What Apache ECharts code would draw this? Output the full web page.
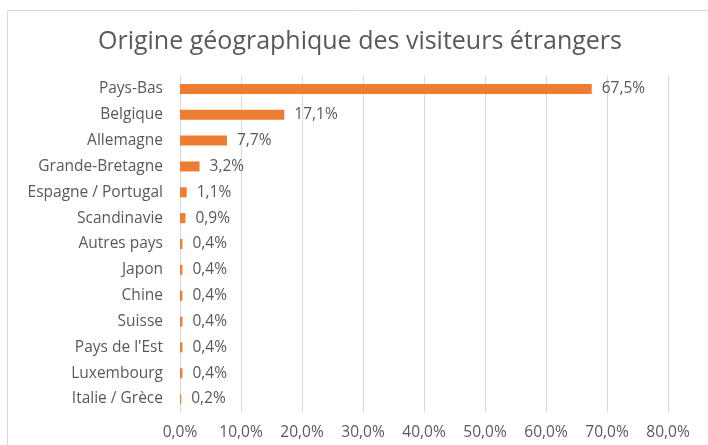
<!DOCTYPE html>
<html>
<head>
<meta charset="utf-8">
<script src="https://cdn.jsdelivr.net/npm/echarts@6/dist/echarts.min.js"></script>
<style>
  html, body { margin: 0; padding: 0; background: #fff; }
  #chart { width: 708px; height: 445px; }
</style>
</head>
<body>
<div id="chart"></div>
<script>
// données (du haut vers le bas)
const pays = ['Pays-Bas', 'Belgique', 'Allemagne', 'Grande-Bretagne', 'Espagne / Portugal',
  'Scandinavie', 'Autres pays', 'Japon', 'Chine', 'Suisse', "Pays de l'Est", 'Luxembourg', 'Italie / Grèce'];
const parts = [67.5, 17.1, 7.7, 3.2, 1.1, 0.9, 0.4, 0.4, 0.4, 0.4, 0.4, 0.4, 0.2];

const fmt = (v) => v.toFixed(1).replace('.', ',') + '%';
const police = '"Open Sans", sans-serif';

const mc = echarts.init(document.getElementById('chart'));
mc.setOption({
  animation: false,
  title: {
    text: 'Origine géographique des visiteurs étrangers',
    left: 93,
    top: 24,
    textStyle: { fontFamily: police, fontSize: 25, fontWeight: 'normal', color: '#595959' },
  },
  graphic: [{
    type: 'rect',
    shape: { x: 7.5, y: 10.5, width: 720, height: 460 },
    style: { fill: 'none', stroke: '#d9d9d9', lineWidth: 1 },
    silent: true,
  }],
  grid: { left: 180, right: 40, top: 76, bottom: 33 },
  xAxis: {
    type: 'value',
    min: 0,
    max: 80,
    interval: 10,
    axisLine: { show: false },
    axisTick: { show: false },
    splitLine: { lineStyle: { color: '#d9d9d9' } },
    axisLabel: {
      formatter: fmt,
      margin: 13,
      fontFamily: police,
      fontSize: 15.5,
      color: '#595959',
    },
  },
  yAxis: {
    type: 'category',
    inverse: true,
    data: pays,
    axisLine: { show: false },
    axisTick: { show: false },
    axisLabel: { margin: 17, fontFamily: police, fontSize: 15.5, color: '#595959' },
  },
  series: [{
    type: 'bar',
    data: parts,
    barWidth: 10,
    itemStyle: { color: '#ED7D31' },
    label: {
      show: true,
      position: 'right',
      distance: 10,
      formatter: (p) => fmt(p.value),
      fontFamily: police,
      fontSize: 15.5,
      color: '#595959',
    },
  }],
});
</script>
</body>
</html>
